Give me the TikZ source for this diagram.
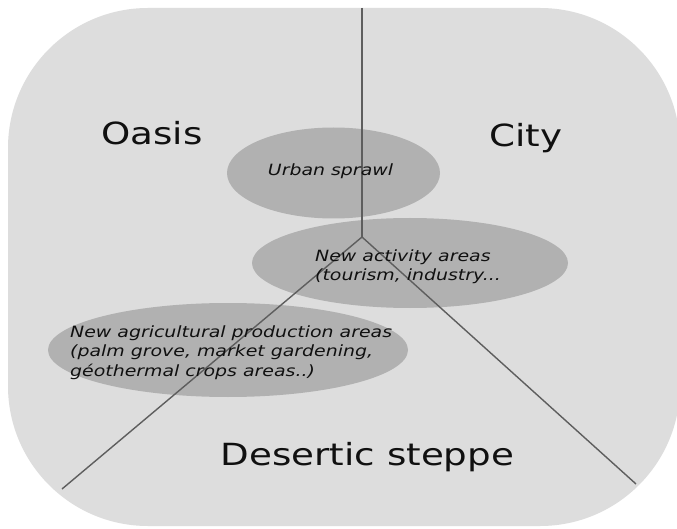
\documentclass[tikz,border=0pt]{standalone}
\usepackage{fontspec}
\usetikzlibrary{shapes.geometric}
\newfontfamily\dvs[FakeStretch=1.22]{DejaVu Sans}
\definecolor{bgfill}{HTML}{DDDDDD}
\definecolor{ellfill}{HTML}{B1B1B1}
\definecolor{linecol}{HTML}{5E5E5E}
\definecolor{txtcol}{HTML}{101010}
\begin{document}
\begin{tikzpicture}[x=1pt,y=-1pt,
  zone/.style={ellipse, fill=ellfill, draw=none, inner sep=0pt},
  bigtext/.style={inner sep=0pt, text=txtcol, font=\dvs\fontsize{30.5pt}{36pt}\selectfont},
  smalltext/.style={inner sep=0pt, text=txtcol, align=left, font=\dvs\itshape\fontsize{15.5pt}{19.5pt}\selectfont},
  divider/.style={draw=linecol, line width=1.4pt}]
\useasboundingbox (0,0) rectangle (677,529);
\fill[white] (0,0) rectangle (677,529);
\fill[bgfill, rounded corners=140pt] (8,8) rectangle (680,526);
% zones
\node[zone, minimum width=213pt, minimum height=91pt] (us) at (333.5,173) {};
\node[zone, minimum width=316pt, minimum height=90pt] (na) at (410,263) {};
\node[zone, minimum width=360pt, minimum height=94pt] (ag) at (228,350) {};
% dividers
\coordinate (top) at (362,8);
\coordinate (j) at (362,237);
\coordinate (bl) at (62,489);
\coordinate (br) at (636,484);
\draw[divider] (top) -- (j);
\draw[divider] (j) -- (bl);
\draw[divider] (j) -- (br);
% big labels
\node[bigtext, anchor=base] (oasis) at (152,145) {Oasis};
\node[bigtext, anchor=base] (city) at (526,147) {City};
\node[bigtext, anchor=base] (desert) at (367.5,465) {Desertic steppe};
% zone labels
\node[smalltext, anchor=base] (ust) at (330.5,176) {Urban sprawl};
\node[smalltext, anchor=base west] (nat) at (315,280.5) {New activity areas\\(tourism, industry...};
\node[smalltext, anchor=base west] (agt) at (70,376) {New agricultural production areas\\(palm grove, market gardening,\\géothermal crops areas..)};
\end{tikzpicture}
\end{document}
